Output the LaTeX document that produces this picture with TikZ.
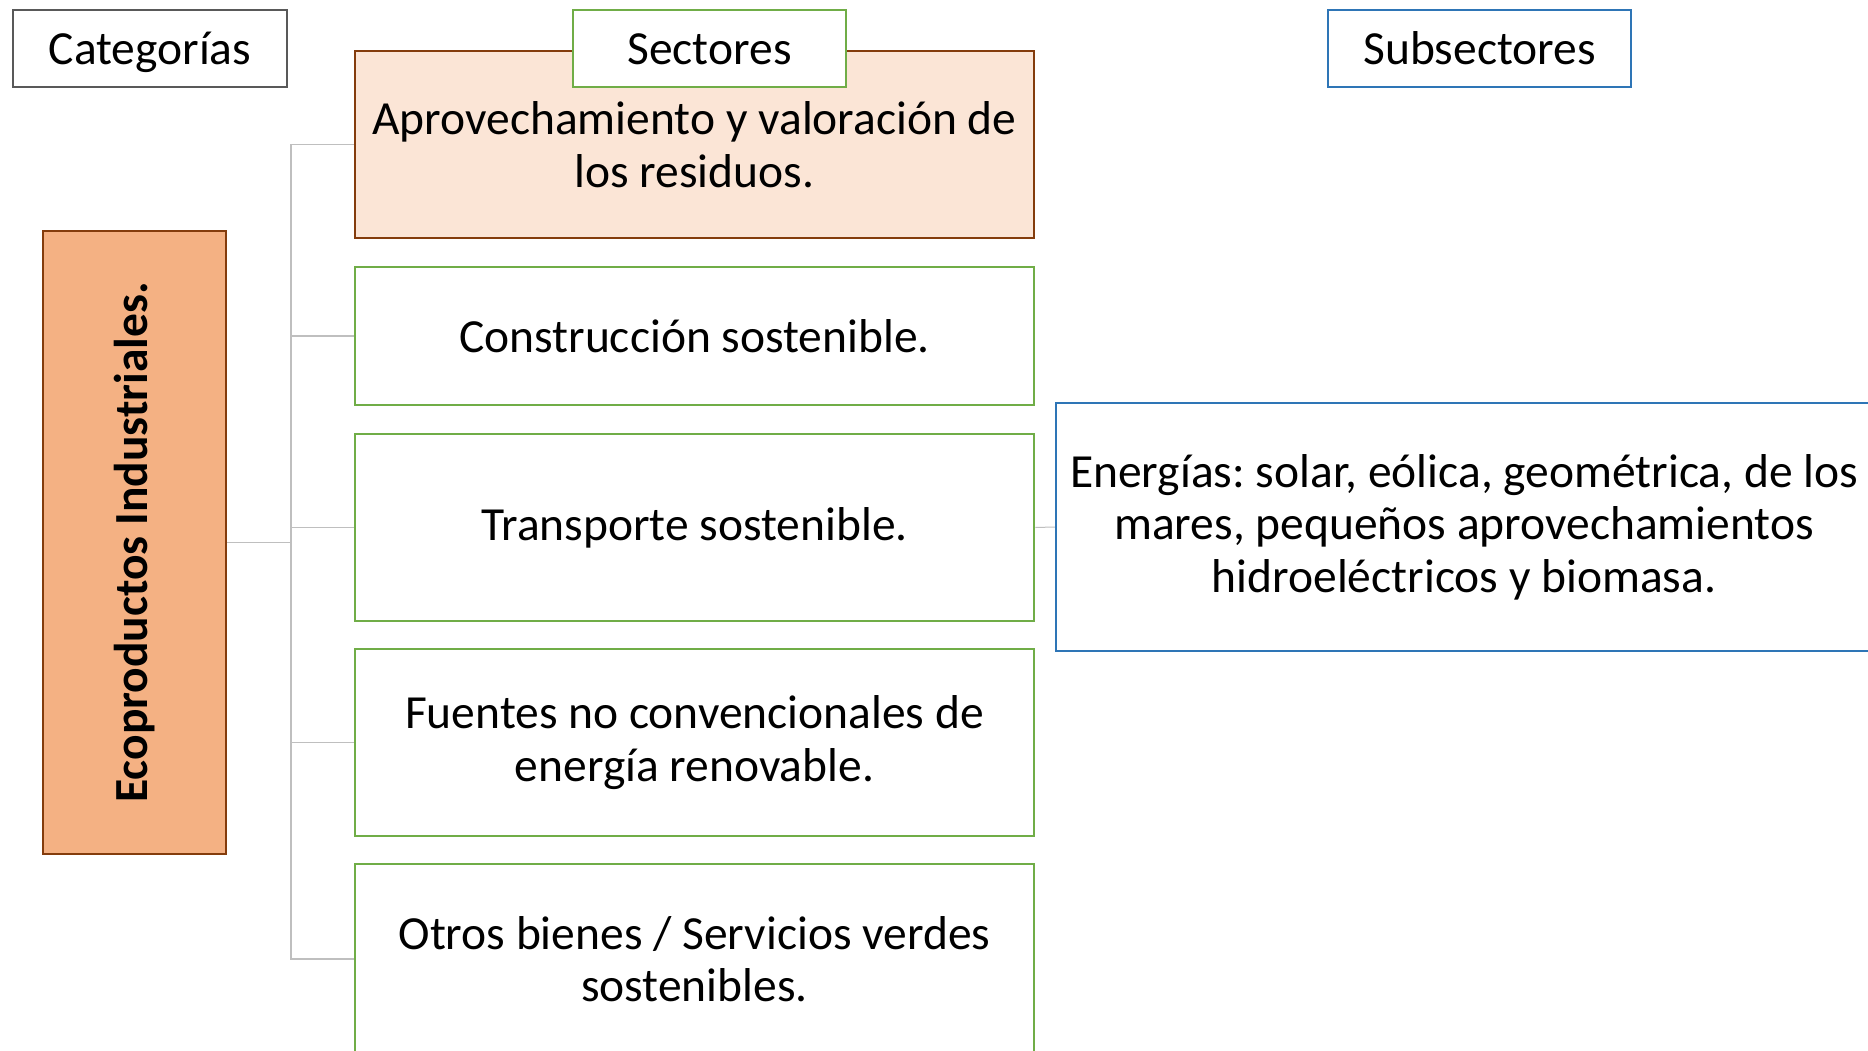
\documentclass[tikz,border=0pt]{standalone}
\usepackage{fontspec}
\setmainfont{Carlito}
\frenchspacing
\definecolor{brownline}{HTML}{843C0C}
\definecolor{lightpeach}{HTML}{FBE5D6}
\definecolor{peach}{HTML}{F4B183}
\definecolor{greenline}{HTML}{70AD47}
\definecolor{blueline}{HTML}{2E75B6}
\definecolor{grayline}{HTML}{595959}
\definecolor{connline}{HTML}{BFBFBF}
\tikzset{
  txt/.style={font=\fontsize{47.5}{52.4}\selectfont, align=center, inner sep=0pt},
  box/.style={txt, rectangle, line width=2.5pt},
  headbox/.style={box, fill=white, minimum height=77pt, text height=33pt, text depth=0pt},
  sectorbox/.style={box, draw=greenline, fill=white, minimum width=679pt},
  conn/.style={draw=connline, line width=1.6pt},
}
\begin{document}
\begin{tikzpicture}[x=1pt,y=-1pt]
\useasboundingbox (0,0) rectangle (1868,1051);
\clip (0,0) rectangle (1868,1051);
\fill[white] (0,0) rectangle (1868,1051);

% header labels (Sectores drawn after the first sector box)
\node[headbox, draw=grayline, minimum width=274pt] (cat) at (150,48.5) {Categorías};
\node[headbox, draw=blueline, minimum width=303pt] (sub) at (1479.5,48.5) {Subsectores};

% category box
\node[box, draw=brownline, fill=peach, minimum width=183pt, minimum height=623pt] (eco) at (134.5,542.5) {};
\node[txt, font=\fontsize{47.5}{52.4}\selectfont\bfseries, rotate=90] (ecot) at (eco.center) {Ecoproductos Industriales.};

% sector boxes
\node[box, draw=brownline, fill=lightpeach, minimum width=679pt, minimum height=187pt] (s1) at (694.5,144.5) {Aprovechamiento y valoración de\\los residuos.};
\node[headbox, draw=greenline, minimum width=273pt] (sec) at (709.5,48.5) {Sectores};
\node[sectorbox, minimum height=138pt] (s2) at (694.5,336) {Construcción sostenible.};
\node[sectorbox, minimum height=187pt] (s3) at (694.5,527.5) {Transporte sostenible.};
\node[sectorbox, minimum height=187pt] (s4) at (694.5,742.5) {Fuentes no convencionales de\\energía renovable.};
\node[sectorbox, minimum height=190pt] (s5) at (694.5,959) {Otros bienes / Servicios verdes\\sostenibles.};

% subsector box
\node[box, draw=blueline, fill=white, minimum width=816pt, minimum height=248pt] (en) at (1464,527) {Energías: solar, eólica, geométrica, de los\\mares, pequeños aprovechamientos\\hidroeléctricos y biomasa.};

% connectors
\coordinate (j) at (291,542.5);
\draw[conn] (eco.east) -- (j);
\draw[conn] (j) |- (s1.west);
\draw[conn] (j) |- (s2.west);
\draw[conn] (j) |- (s3.west);
\draw[conn] (j) |- (s4.west);
\draw[conn] (j) |- (s5.west);
\draw[conn, line width=1pt] (s3.east) -- (en.west);
\end{tikzpicture}
\end{document}
